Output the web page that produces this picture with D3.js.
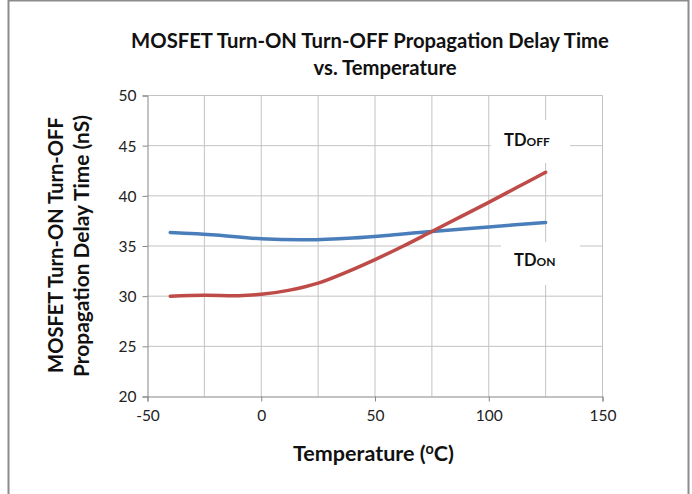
<!DOCTYPE html>
<html><head><meta charset="utf-8">
<script src="https://cdn.jsdelivr.net/npm/d3@7/dist/d3.min.js"></script>
<style>
html,body{margin:0;padding:0;background:#fff;}
svg{display:block;font-family:Lato,"Open Sans",sans-serif;}
</style></head>
<body>
<svg id="chart" width="692" height="494"></svg>
<script>
// ---- data ----
const titleLines = ["MOSFET Turn-ON Turn-OFF Propagation Delay Time", "vs. Temperature"];
const yTitleLines = ["MOSFET Turn-ON Turn-OFF", "Propagation Delay Time (nS)"];
const xTitle = "Temperature (";
const xTicks = [-50, 0, 50, 100, 150];
const xGrid = [-25, 0, 25, 50, 75, 100, 125, 150];
const yTicks = [20, 25, 30, 35, 40, 45, 50];
const tdOnTemp = [-40, -20, 0, 20, 40, 60, 75, 100, 125];
const tdOnValues = [36.35, 36.1, 35.72, 35.62, 35.8, 36.15, 36.45, 36.9, 37.35];
const tdOffTemp = [-40, -25, -10, 0, 12.5, 25, 37.5, 50, 62.5, 75, 87.5, 100, 112.5, 125];
const tdOffValues = [30.0, 30.08, 30.05, 30.18, 30.6, 31.3, 32.4, 33.65, 35.0, 36.45, 37.9, 39.35, 40.85, 42.35];

const svg = d3.select("#chart");
const x = d3.scaleLinear().domain([-50, 150]).range([147.5, 602.5]);
const y = d3.scaleLinear().domain([20, 50]).range([396.5, 95.5]);

// outer border
svg.append("rect").attr("x", 8.5).attr("y", 0.5).attr("width", 680).attr("height", 500)
  .attr("fill", "none").attr("stroke", "#8c8c8c").attr("stroke-width", 2);

// gridlines
const grid = svg.append("g").attr("stroke", "#c3c3c3").attr("stroke-width", 1);
yTicks.filter(v => v > 20).forEach(v => {
  grid.append("line").attr("x1", x(-50)).attr("x2", x(150)).attr("y1", y(v)).attr("y2", y(v));
});
xGrid.forEach(v => {
  grid.append("line").attr("x1", x(v)).attr("x2", x(v)).attr("y1", y(50)).attr("y2", y(20));
});

// axes
const fmt = d => String(d);
const yAxis = d3.axisLeft(y).tickValues(yTicks).tickFormat(fmt).tickSize(5).tickPadding(6);
const gy = svg.append("g").attr("transform", `translate(${x(-50)},0)`).call(yAxis);
const xAxis = d3.axisBottom(x).tickValues(xTicks).tickFormat(fmt).tickSize(5).tickPadding(8);
const gx = svg.append("g").attr("transform", `translate(0,${y(20)})`).call(xAxis);
[gx, gy].forEach(g => {
  g.select(".domain").attr("stroke", "#868686");
  g.selectAll(".tick line").attr("stroke", "#868686");
  g.selectAll(".tick text").attr("font-family", "Lato, sans-serif").attr("font-size", 15.5).attr("fill", "#222");
});
gy.selectAll(".tick text").attr("dy", "0.35em");

// lines
const line = d3.line().x(d => x(d[0])).y(d => y(d[1])).curve(d3.curveCatmullRom.alpha(0.5));
svg.append("path").datum(tdOnTemp.map((t, i) => [t, tdOnValues[i]]))
  .attr("d", line).attr("fill", "none").attr("stroke", "#4a7ebb").attr("stroke-width", 3.5).attr("stroke-linecap", "round");
svg.append("path").datum(tdOffTemp.map((t, i) => [t, tdOffValues[i]]))
  .attr("d", line).attr("fill", "none").attr("stroke", "#be4b48").attr("stroke-width", 3.5).attr("stroke-linecap", "round");

// label boxes
function tdLabel(bx, by, bw, bh, tx, ty, sub) {
  svg.append("rect").attr("x", bx).attr("y", by).attr("width", bw).attr("height", bh).attr("fill", "#fff");
  const t = svg.append("text").attr("x", tx).attr("y", ty).attr("font-weight", "bold").attr("fill", "#111");
  t.append("tspan").attr("font-size", 16.5).text("TD");
  t.append("tspan").attr("font-size", 12).text(sub);
}
tdLabel(491, 120, 79, 43, 504, 146, "OFF");
tdLabel(501, 242, 79, 43, 514, 266, "ON");

// fitting helper
function fit(sel, target) {
  const w = sel.node().getComputedTextLength();
  const fs = parseFloat(sel.attr("font-size"));
  sel.attr("font-size", fs * target / w);
  return fs * target / w;
}

// title
const t1 = svg.append("text").attr("x", 370).attr("y", 48).attr("text-anchor", "middle")
  .attr("font-weight", "bold").attr("font-size", 20).attr("fill", "#111").text(titleLines[0]);
const tfs = fit(t1, 478);
svg.append("text").attr("x", 385).attr("y", 75).attr("text-anchor", "middle")
  .attr("font-weight", "bold").attr("font-size", tfs).attr("fill", "#111").text(titleLines[1]);

// y title
const yt1 = svg.append("text").attr("transform", "translate(63,245) rotate(-90)").attr("text-anchor", "middle")
  .attr("font-weight", "bold").attr("font-size", 18).attr("fill", "#111").text(yTitleLines[0]);
fit(yt1, 256);
const yt2 = svg.append("text").attr("transform", "translate(89,246) rotate(-90)").attr("text-anchor", "middle")
  .attr("font-weight", "bold").attr("font-size", 18).attr("fill", "#111").text(yTitleLines[1]);
fit(yt2, 262);

// x title
const xt = svg.append("text").attr("x", 373.5).attr("y", 461).attr("text-anchor", "middle")
  .attr("font-weight", "bold").attr("font-size", 18).attr("fill", "#111");
xt.append("tspan").text(xTitle);
xt.append("tspan").attr("font-size", 12).attr("dy", -7).text("o");
xt.append("tspan").attr("dy", 7).text("C)");
const w0 = xt.node().getComputedTextLength();
const sc = 161 / w0;
xt.attr("font-size", 18 * sc);
xt.selectAll("tspan").filter((d, i) => i === 1).attr("font-size", 12 * sc);
</script>
</body></html>
